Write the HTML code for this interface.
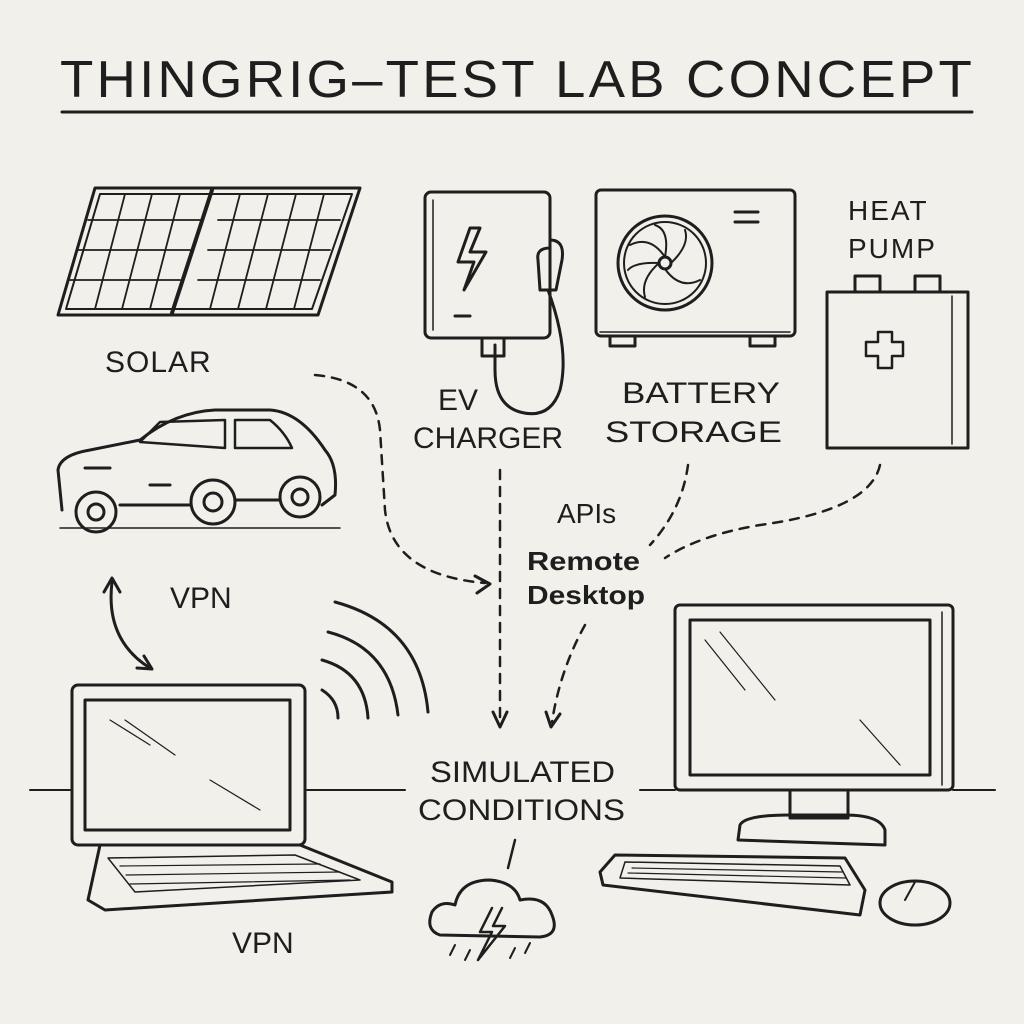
<!DOCTYPE html>
<html><head><meta charset="utf-8"><style>
html,body{margin:0;padding:0;background:#f1f0eb;}
svg{display:block}
text{font-family:"Liberation Sans",sans-serif;fill:#1e1e1e;}
</style></head><body>
<svg width="1024" height="1024" viewBox="0 0 1024 1024" xmlns="http://www.w3.org/2000/svg">
<rect width="1024" height="1024" fill="#f1f0eb"/>
<g stroke="#1e1e1e" fill="none" stroke-width="3" stroke-linecap="round" stroke-linejoin="round">
<!-- title -->
<line x1="62" y1="112" x2="972" y2="112"/>
<!-- solar -->
<polygon points="95,188 360,188 318,315 58,315"/>
<polygon points="100,194 352,194 312,309 66,309" stroke-width="2"/>
<line x1="212" y1="190" x2="172" y2="313" stroke-width="4"/>
<g stroke-width="1.8">
<line x1="88" y1="220" x2="200" y2="220"/><line x1="78" y1="250" x2="190" y2="250"/><line x1="68" y1="280" x2="180" y2="280"/>
<line x1="218" y1="220" x2="340" y2="220"/><line x1="208" y1="250" x2="330" y2="250"/><line x1="198" y1="280" x2="320" y2="280"/>
<line x1="125" y1="194" x2="95" y2="309"/><line x1="152" y1="194" x2="122" y2="309"/><line x1="180" y1="194" x2="150" y2="309"/>
<line x1="240" y1="194" x2="210" y2="309"/><line x1="268" y1="194" x2="238" y2="309"/><line x1="296" y1="194" x2="266" y2="309"/><line x1="324" y1="194" x2="294" y2="309"/>
</g>
<!-- car -->
<path d="M62,510 L58,470 Q60,455 90,450 L140,440 Q175,412 215,410 L270,410 Q300,412 325,450 Q338,465 335,495 L322,505"/>
<path d="M120,505 L190,505 M235,500 L280,500"/>
<path d="M140,442 L160,422 L225,420 L225,448 Z M235,420 L270,420 Q285,432 292,448 L235,448 Z" stroke-width="2.5"/>
<line x1="150" y1="485" x2="170" y2="485"/><line x1="85" y1="468" x2="110" y2="468"/>
<circle cx="96" cy="512" r="20"/><circle cx="96" cy="512" r="8"/>
<circle cx="213" cy="502" r="22"/><circle cx="213" cy="502" r="9"/>
<circle cx="300" cy="497" r="20"/><circle cx="300" cy="497" r="8"/>
<line x1="60" y1="528" x2="340" y2="528" stroke-width="1.5"/>
<!-- EV charger -->
<rect x="425" y="192" width="125" height="146" rx="6"/>
<line x1="433" y1="200" x2="433" y2="330" stroke-width="1.5"/>
<path d="M470,228 L458,262 L474,262 L464,290 L486,252 L470,252 L480,228 Z"/>
<line x1="455" y1="316" x2="470" y2="316"/>
<path d="M550,240 Q565,240 562,260 L556,290 L540,290 L538,260 Q536,248 550,248"/>
<path d="M548,290 Q570,350 560,390 Q550,420 520,412 Q495,405 495,370 L495,345"/>
<rect x="482" y="338" width="22" height="18"/>
<!-- fan unit -->
<rect x="596" y="190" width="199" height="146" rx="5"/>
<line x1="600" y1="332" x2="790" y2="332" stroke-width="1.5"/>
<circle cx="665" cy="263" r="47"/><circle cx="665" cy="263" r="41" stroke-width="2"/>
<circle cx="665" cy="263" r="6"/>
<path d="M665,257 Q650,235 630,245 M671,263 Q690,245 685,230 M665,269 Q680,290 700,280 M659,263 Q640,280 645,297 M665,257 Q670,230 655,225 M659,263 Q635,262 628,270" stroke-width="2"/>
<line x1="735" y1="212" x2="758" y2="212"/><line x1="735" y1="222" x2="758" y2="222"/>
<rect x="610" y="336" width="25" height="10"/><rect x="750" y="336" width="25" height="10"/>
<!-- battery -->
<rect x="827" y="292" width="141" height="156"/>
<rect x="855" y="276" width="25" height="16"/><rect x="915" y="276" width="25" height="16"/>
<line x1="952" y1="296" x2="952" y2="444" stroke-width="1.5"/>
<path d="M878,332 L892,332 L892,342 L903,342 L903,356 L892,356 L892,368 L878,368 L878,356 L866,356 L866,342 L878,342 Z" stroke-width="2.5"/>
<!-- dashed connectors -->
<g stroke-dasharray="9 8" stroke-width="2.5">
<path d="M315,375 Q375,380 380,430 L385,510 Q392,575 485,583"/>
<line x1="500" y1="470" x2="500" y2="720"/>
<path d="M688,465 Q682,510 650,545"/>
<path d="M880,465 Q870,510 760,525 Q700,535 665,558"/>
<path d="M585,625 Q560,670 552,722"/>
</g>
<path d="M475,576 L490,584 L477,593"/>
<path d="M493,712 L500,727 L507,712"/>
<path d="M546,712 L551,727 L560,714"/>
<!-- VPN double arrow -->
<path d="M112,582 Q105,640 150,668"/>
<path d="M104,592 L112,578 L120,592"/><path d="M137,668 L152,669 L144,656"/>
<!-- wifi -->
<path d="M322,690 Q338,700 338,718"/>
<path d="M322,660 Q365,672 368,718"/>
<path d="M328,632 Q390,648 398,715"/>
<path d="M335,602 Q420,625 428,712"/>
<!-- laptop -->
<rect x="72" y="685" width="233" height="160" rx="6"/>
<rect x="85" y="700" width="205" height="130"/>
<path d="M100,845 L300,845 L392,882 L392,892 L105,910 L88,900 Z"/>
<path d="M108,858 L295,855 L360,880 L135,892 Z" stroke-width="1.5"/>
<g stroke-width="1.2"><line x1="120" y1="866" x2="320" y2="864"/><line x1="126" y1="875" x2="340" y2="872"/><line x1="130" y1="884" x2="350" y2="880"/></g>
<g stroke-width="1.2"><line x1="110" y1="720" x2="150" y2="745"/><line x1="125" y1="720" x2="175" y2="755"/><line x1="210" y1="780" x2="260" y2="810"/></g>
<!-- horizon lines -->
<line x1="30" y1="790" x2="70" y2="790" stroke-width="2"/>
<line x1="307" y1="790" x2="405" y2="790" stroke-width="2"/>
<line x1="640" y1="790" x2="675" y2="790" stroke-width="2"/>
<line x1="953" y1="790" x2="995" y2="790" stroke-width="2"/>
<!-- simulated -->
<line x1="515" y1="840" x2="508" y2="868" stroke-width="2.5"/>
<path d="M440,935 Q425,930 432,912 Q440,900 455,905 Q460,880 490,880 Q515,882 520,900 Q545,895 552,915 Q560,935 540,937 Z"/>
<path d="M492,908 L480,932 L492,932 L478,960 L505,926 L493,926 L502,908" stroke-width="2.5"/>
<g stroke-width="2"><line x1="455" y1="945" x2="450" y2="955"/><line x1="470" y1="950" x2="465" y2="960"/><line x1="515" y1="948" x2="510" y2="958"/><line x1="530" y1="943" x2="525" y2="953"/></g>
<!-- monitor -->
<rect x="675" y="605" width="278" height="185" rx="5"/>
<rect x="690" y="620" width="240" height="155"/>
<line x1="942" y1="612" x2="942" y2="785" stroke-width="1.5"/>
<g stroke-width="1.2"><line x1="705" y1="640" x2="745" y2="690"/><line x1="720" y1="632" x2="775" y2="700"/><line x1="860" y1="720" x2="900" y2="765"/></g>
<rect x="790" y="790" width="58" height="28"/>
<path d="M740,825 L738,840 L885,845 L885,830 Q880,815 845,815 L790,815 Q745,815 740,825 Z"/>
<path d="M615,855 L845,858 L865,890 L860,915 L603,885 L600,872 Z"/>
<path d="M625,862 L840,866 L850,885 L620,878 Z" stroke-width="1.5"/>
<g stroke-width="1.2"><line x1="632" y1="868" x2="842" y2="872"/><line x1="628" y1="873" x2="846" y2="878"/></g>
<ellipse cx="915" cy="903" rx="35" ry="22"/>
<line x1="915" y1="882" x2="905" y2="900" stroke-width="2"/>
</g>
<!-- text -->
<text x="60" y="97" font-size="52" letter-spacing="3" textLength="915" lengthAdjust="spacingAndGlyphs">THINGRIG–TEST LAB CONCEPT</text>
<text x="105" y="372" font-size="30" letter-spacing="1">SOLAR</text>
<text x="438" y="410" font-size="30">EV</text>
<text x="413" y="448" font-size="30" textLength="150" lengthAdjust="spacingAndGlyphs">CHARGER</text>
<text x="622" y="403" font-size="30" textLength="158" lengthAdjust="spacingAndGlyphs">BATTERY</text>
<text x="605" y="442" font-size="30" textLength="177" lengthAdjust="spacingAndGlyphs">STORAGE</text>
<text x="848" y="220" font-size="28" letter-spacing="2">HEAT</text>
<text x="848" y="258" font-size="28" letter-spacing="2">PUMP</text>
<text x="557" y="523" font-size="28">APIs</text>
<text x="527" y="570" font-size="26" font-weight="bold" textLength="113" lengthAdjust="spacingAndGlyphs">Remote</text>
<text x="527" y="604" font-size="26" font-weight="bold" textLength="118" lengthAdjust="spacingAndGlyphs">Desktop</text>
<text x="170" y="608" font-size="30">VPN</text>
<text x="232" y="953" font-size="30">VPN</text>
<text x="430" y="782" font-size="30" textLength="185" lengthAdjust="spacingAndGlyphs">SIMULATED</text>
<text x="418" y="820" font-size="30" textLength="207" lengthAdjust="spacingAndGlyphs">CONDITIONS</text>
</svg>
</body></html>
